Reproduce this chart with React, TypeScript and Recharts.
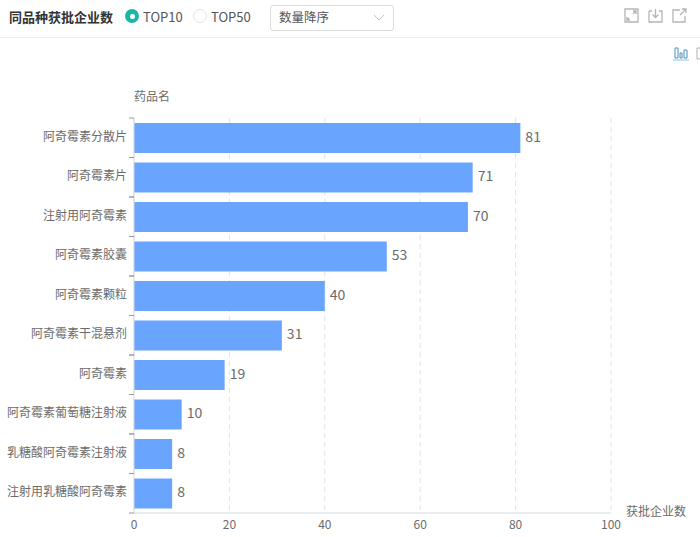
import { BarChart, Bar, XAxis, YAxis, CartesianGrid, LabelList, Label } from "recharts";

const drugs = [
  "阿奇霉素分散片",
  "阿奇霉素片",
  "注射用阿奇霉素",
  "阿奇霉素胶囊",
  "阿奇霉素颗粒",
  "阿奇霉素干混悬剂",
  "阿奇霉素",
  "阿奇霉素葡萄糖注射液",
  "乳糖酸阿奇霉素注射液",
  "注射用乳糖酸阿奇霉素",
];
const companies = [81, 71, 70, 53, 40, 31, 19, 10, 8, 8];
const xTicks = [0, 20, 40, 60, 80, 100];

const rows = drugs.map((name, i) => ({ name, value: companies[i] }));

const FONT = '"Noto Sans CJK SC", "Noto Sans", sans-serif';
const AXIS = "#d5dadd";
const TEXT = "#6b6b6b";
const BAND = 39.5;

// ticks sit on the band edges, labels in the middle
const DrugTick = ({ x, y, payload }: any) => {
  const edge = x + 8;
  return (
    <g>
      <line x1={edge - 5} x2={edge} y1={y - BAND / 2} y2={y - BAND / 2} stroke="#999" />
      <line x1={edge - 5} x2={edge} y1={y + BAND / 2} y2={y + BAND / 2} stroke="#999" />
      <text x={edge - 7} y={y + 3} textAnchor="end" fontSize={12} fill={TEXT} fontFamily={FONT}>
        {payload.value}
      </text>
    </g>
  );
};

const Icon = ({ left, d, color = "#b5b5b5" }: { left: number; d: string; color?: string }) => (
  <svg style={{ position: "absolute", left, top: 8 }} width="15" height="15" viewBox="0 0 15 15">
    <path d={d} fill="none" stroke={color} strokeWidth="1.3" />
  </svg>
);

export default function App() {
  return (
    <div style={{ position: "fixed", left: 0, top: 0, width: 700, height: 537, overflow: "hidden", background: "#fff", fontFamily: FONT }}>
      <div style={{ position: "absolute", left: 9, top: 8, fontSize: 13, fontWeight: 700, color: "#333", lineHeight: "18px" }}>同品种获批企业数</div>
      <div style={{ position: "absolute", left: 125, top: 9, width: 14, height: 14, borderRadius: 7, background: "#1fb5a6" }}>
        <div style={{ position: "absolute", left: 4.5, top: 4.5, width: 5, height: 5, borderRadius: 3, background: "#fff" }} />
      </div>
      <div style={{ position: "absolute", left: 143, top: 8, fontSize: 13, color: "#555", lineHeight: "18px" }}>TOP10</div>
      <div style={{ position: "absolute", left: 193, top: 9, width: 12, height: 12, borderRadius: 7, border: "1px solid #e2e2e2" }} />
      <div style={{ position: "absolute", left: 211, top: 8, fontSize: 13, color: "#555", lineHeight: "18px" }}>TOP50</div>
      <div style={{ position: "absolute", left: 270, top: 5, width: 122, height: 24, border: "1px solid #dcdcdc", borderRadius: 3 }}>
        <span style={{ position: "absolute", left: 8, top: 2, fontSize: 12.5, color: "#555", lineHeight: "18px" }}>数量降序</span>
        <svg style={{ position: "absolute", left: 102, top: 8 }} width="12" height="8" viewBox="0 0 12 8">
          <path d="M1 1 L6 6 L11 1" fill="none" stroke="#c4c4c4" />
        </svg>
      </div>
      <Icon left={624} d="M1 1H14V14H1Z M9 6L12 3M5 10L3 12M9 3H12V6M3 9V12H6" />
      <Icon left={648} d="M1 3H4M11 3H14V14H1V3M7.5 1V9M4.5 6.5L7.5 9.5L10.5 6.5" />
      <Icon left={672} d="M8 2H1V14H13V8M8 7L14 1M10 1H14V5" />
      <div style={{ position: "absolute", left: 0, top: 37, width: 700, height: 1, background: "#eeeeee" }} />
      <svg style={{ position: "absolute", left: 673, top: 46 }} width="16" height="15" viewBox="0 0 16 15">
        <path d="M2 2H5V12H2Z M7 7H9V12H7Z M11 4H14V12H11Z" fill="none" stroke="#4a90c2" />
        <path d="M0 14H16" stroke="#8cc4e6" />
      </svg>
      <svg style={{ position: "absolute", left: 696, top: 46 }} width="4" height="15" viewBox="0 0 4 15">
        <path d="M1 2H4M1 2V13H4" fill="none" stroke="#b0b0b0" />
      </svg>
      <div style={{ position: "absolute", left: 134, top: 88, fontSize: 12, color: TEXT, lineHeight: "16px" }}>药品名</div>

      <div style={{ position: "absolute", left: 0, top: 0 }}>
        <BarChart
          width={700}
          height={537}
          data={rows}
          layout="vertical"
          margin={{ top: 118, right: 89, bottom: 0, left: 0 }}
          barCategoryGap={4.75}
        >
          <CartesianGrid horizontal={false} stroke="#e3e3e3" strokeDasharray="5 4" />
          <XAxis
            type="number"
            domain={[0, 100]}
            ticks={xTicks}
            height={24}
            tickLine={false}
            axisLine={{ stroke: AXIS }}
            tick={{ fontSize: 12, fill: TEXT, fontFamily: FONT }}
            tickMargin={1}
          >
            <Label value="获批企业数" position="right" offset={15} dy={-13} fontSize={12} fill={TEXT} fontFamily={FONT} />
          </XAxis>
          <YAxis
            type="category"
            dataKey="name"
            width={134}
            interval={0}
            tickLine={false}
            axisLine={{ stroke: AXIS }}
            tick={DrugTick}
          />
          <Bar dataKey="value" fill="#69a5ff" barSize={30} isAnimationActive={false}>
            <LabelList dataKey="value" position="right" offset={5} dy={-1} fontSize={14} fill={TEXT} fontFamily={FONT} />
          </Bar>
        </BarChart>
      </div>
    </div>
  );
}
